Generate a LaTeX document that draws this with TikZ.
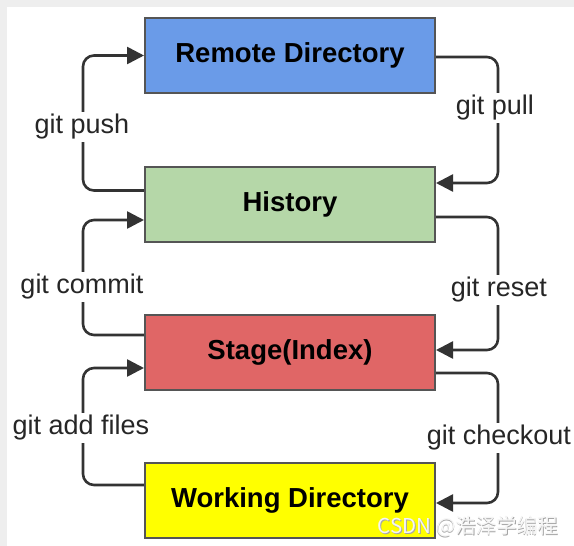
\documentclass[tikz,border=0pt]{standalone}
\usepackage{fontspec}
\setmainfont{Liberation Sans}
\newfontfamily\cjkfont{Noto Sans CJK SC}
\usetikzlibrary{arrows.meta,calc}
\definecolor{bgray}{HTML}{EEEEEE}
\definecolor{edgegray}{HTML}{555555}
\definecolor{linegray}{HTML}{333333}
\definecolor{remoteblue}{HTML}{6A9BE8}
\definecolor{histgreen}{HTML}{B5D7A8}
\definecolor{stagered}{HTML}{E06666}
\definecolor{workyellow}{HTML}{FFFF00}
\tikzset{
  box/.style={draw=edgegray, line width=2pt, minimum width=290pt, minimum height=75pt,
    inner sep=0pt, font=\fontsize{27.5}{31}\selectfont\bfseries, text=black},
  flow/.style={draw=linegray, line width=2.6pt, rounded corners=11pt,
    -{Triangle[length=17pt,width=17pt]}},
  lbl/.style={fill=white, inner sep=2pt, font=\fontsize{27}{31}\selectfont, text=black!85},
}
\begin{document}
\begin{tikzpicture}[x=1pt,y=-1pt]
\useasboundingbox (0,0) rectangle (574,546);
\fill[bgray] (0,0) rectangle (574,546);
\fill[white] (7,7) rectangle (574,546);

\node[box, fill=remoteblue] (remote) at (290,55.5) {Remote Directory};
\node[box, fill=histgreen] (history) at (290,204.5) {History};
\node[box, fill=stagered] (stage) at (290,352.5) {Stage(Index)};
\node[box, fill=workyellow] (work) at (290,500.5) {Working Directory};

% left side
\draw[flow] ([yshift=14pt]history.west) -- ++(-61,0) |- ([yshift=0pt]remote.west);
\draw[flow] ([yshift=17.5pt]stage.west) -- ++(-61,0) |- ([yshift=-15.5pt]history.west);
\draw[flow] ([yshift=15.5pt]work.west) -- ++(-61,0) |- ([yshift=-15.5pt]stage.west);
% right side
\draw[flow] ([yshift=-1.5pt]remote.east) -- ++(62,0) |- ([yshift=21.5pt]history.east);
\draw[flow] ([yshift=-12.5pt]history.east) -- ++(62,0) |- ([yshift=2.5pt]stage.east);
\draw[flow] ([yshift=-20.5pt]stage.east) -- ++(62,0) |- ([yshift=-2.5pt]work.east);

\node[lbl] (lpush) at (82,127) {git push};
\node[lbl] (lcommit) at (82,287) {git commit};
\node[lbl] (ladd) at (81,428) {git add files};
\node[lbl] (lpull) at (495,108) {git pull};
\node[lbl] (lreset) at (499,290) {git reset};
\node[lbl] (lcheck) at (499,438) {git checkout};

\node[text=gray!70, font=\cjkfont\fontsize{20.5}{24}\selectfont] (wm2) at (468.8,527.8) {CSDN @浩泽学编程};
\node[text=white!96!black, font=\cjkfont\fontsize{20.5}{24}\selectfont] (wm) at (468,527) {CSDN @浩泽学编程};
\end{tikzpicture}
\end{document}
